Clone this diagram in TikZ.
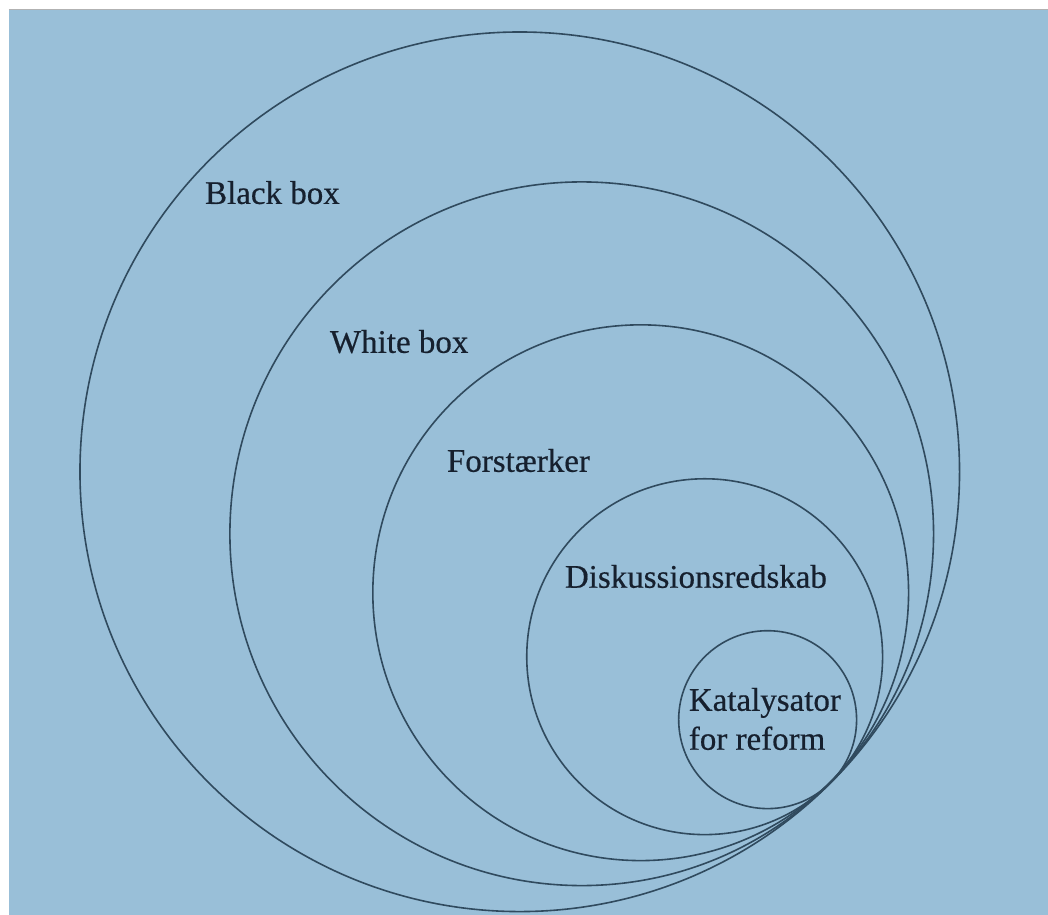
\documentclass[tikz,border=0pt]{standalone}
\usepackage{fontspec}
\setmainfont{Liberation Serif}
\newfontfamily\lblfont{Liberation Serif}[FakeBold=0.5]
\definecolor{bgblue}{RGB}{153,191,216}
\definecolor{ink}{RGB}{48,74,94}
\definecolor{txt}{RGB}{22,32,46}
\begin{document}
\begin{tikzpicture}[x=1pt,y=-1pt,
  ring/.style={circle,draw=ink,line width=1.6pt,inner sep=0pt,minimum size=#1},
  lbl/.style={anchor=base west,inner sep=0pt,text=txt,font=\lblfont\fontsize{33}{39}\selectfont}]
\fill[white] (0,0) rectangle (1048,915);
\fill[bgblue] (9,9) rectangle (1048,915);
\draw[gray!60,line width=1pt] (9,9.5) -- (1048,9.5);
\useasboundingbox (0,0) rectangle (1048,915);
% nested circles, all internally tangent near (831,783)
\node[ring=880pt] (black) at (520,472) {};
\node[ring=704pt] (white) at (582,534) {};
\node[ring=536pt] (forst) at (641,593) {};
\node[ring=356pt] (disk) at (705,657) {};
\node[ring=178pt] (kat) at (768,720) {};
% labels
\node[lbl] (tblack) at (205,204) {Black box};
\node[lbl] (twhite) at (330,353) {White box};
\node[lbl] (tforst) at (447,472) {Forstærker};
\node[lbl] (tdisk) at (565,588) {Diskussionsredskab};
\node[lbl,align=left,anchor=north west] (tkat) at (689,688) {Katalysator\\for reform};
\end{tikzpicture}
\end{document}
